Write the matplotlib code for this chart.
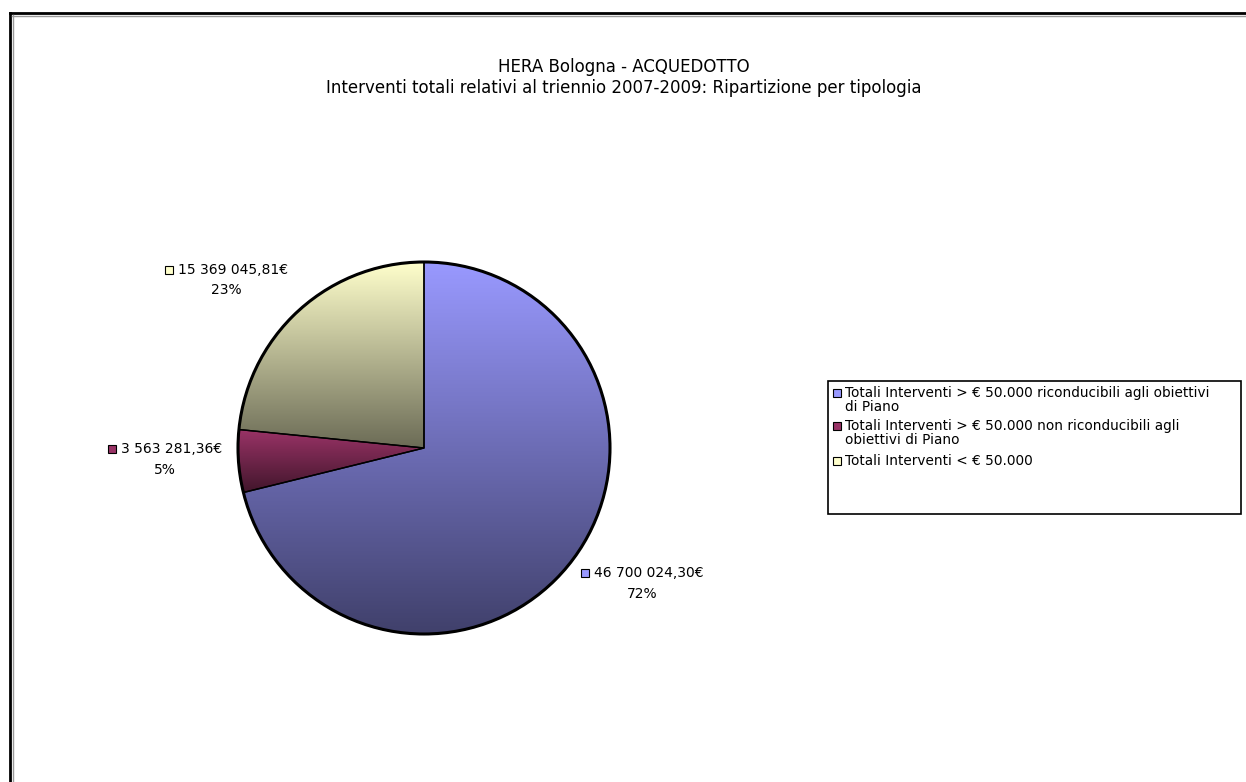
import numpy as np
import matplotlib
matplotlib.use("Agg")
import matplotlib.pyplot as plt
from matplotlib.lines import Line2D
from matplotlib.patches import Rectangle
from matplotlib.colors import to_rgb

# ---------------- data ----------------
title_lines = ["HERA Bologna - ACQUEDOTTO",
               "Interventi totali relativi al triennio 2007-2009: Ripartizione per tipologia"]
categories = ["Totali Interventi > € 50.000 riconducibili agli obiettivi\ndi Piano",
              "Totali Interventi > € 50.000 non riconducibili agli\nobiettivi di Piano",
              "Totali Interventi < € 50.000"]
values = [46700024.30, 3563281.36, 15369045.81]
value_labels = ["46 700 024,30€", "3 563 281,36€", "15 369 045,81€"]
pct_labels = ["72%", "5%", "23%"]
colors = ["#9999FF", "#993366", "#FFFFCC"]

W, H = 1246, 782
fig = plt.figure(figsize=(W / 100, H / 100), dpi=100)
fig.patch.set_facecolor("white")

def fx(x):
    return x / W

def fy(y):
    return 1 - y / H

# frame lines (left and top)
fig.add_artist(Line2D([fx(10), fx(10)], [fy(13), 0], color="black", lw=2))
fig.add_artist(Line2D([fx(10), 1], [fy(13), fy(13)], color="black", lw=2))
fig.add_artist(Line2D([fx(12.5), fx(12.5)], [fy(15), 0], color="#9a9a9a", lw=1))
fig.add_artist(Line2D([fx(12), 1], [fy(15.5), fy(15.5)], color="#9a9a9a", lw=1))

# title
fig.text(fx(624), fy(67), title_lines[0], ha="center", va="center",
         fontsize=12, family="DejaVu Sans")
fig.text(fx(624), fy(88), title_lines[1], ha="center", va="center",
         fontsize=12, family="DejaVu Sans")

# pie axes: center (424, 448), radius 186 px
cx, cy, r = 424, 448, 186
half = 200
ax = fig.add_axes([fx(cx - half), fy(cy + half), 2 * half / W, 2 * half / H])

wedges, _ = ax.pie(values, startangle=90, counterclock=False, radius=1,
                   colors=["none"] * 3,
                   wedgeprops=dict(edgecolor="black", linewidth=1.0))

for w, c in zip(wedges, colors):
    t1, t2 = np.deg2rad(w.theta1), np.deg2rad(w.theta2)
    th = np.linspace(t1, t2, 200)
    xs = np.concatenate([[0], np.cos(th)])
    ys = np.concatenate([[0], np.sin(th)])
    x0, x1, y0, y1 = xs.min(), xs.max(), ys.min(), ys.max()
    base = np.array(to_rgb(c))
    dark = base * 0.42
    n = 256
    tt = np.linspace(0, 1, n)[:, None]
    grad = base[None, :] * (1 - tt) + dark[None, :] * tt
    img = np.repeat(grad[:, None, :], 2, axis=1)
    im = ax.imshow(img, extent=[x0, x1, y0, y1], origin="upper",
                   aspect="auto", zorder=0.5, interpolation="bilinear")
    im.set_clip_path(w)

ax.set_xlim(-half / r, half / r)
ax.set_ylim(-half / r, half / r)
ax.set_aspect("equal")
ax.axis("off")

# outer outline
circ = plt.Circle((0, 0), 1, fill=False, edgecolor="black", lw=2.2, zorder=3)
ax.add_patch(circ)

# data labels
lab_pos = [(642, 573, 594), (165, 449, 470), (226, 270, 290)]
for (lx, ly1, ly2), vl, pl, c in zip(lab_pos, value_labels, pct_labels, colors):
    t = fig.text(fx(lx + 7), fy(ly1), vl, ha="center", va="center",
                 fontsize=10, family="DejaVu Sans")
    fig.text(fx(lx), fy(ly2), pl, ha="center", va="center",
             fontsize=10, family="DejaVu Sans")
    fig.canvas.draw()
    bb = t.get_window_extent()
    sx = bb.x0 - 13
    fig.add_artist(Rectangle((sx / W, (H - ly1 - 4) / H), 8 / W, 8 / H,
                             facecolor=c, edgecolor="black", lw=0.8))

# legend box
fig.add_artist(Rectangle((fx(828), fy(514)), (1241 - 828) / W, (514 - 381) / H,
                         facecolor="white", edgecolor="black", lw=1.2))
leg_rows = [(393, 0), (426, 1), (461, 2)]
for (ly, i) in leg_rows:
    fig.add_artist(Rectangle((fx(833), fy(ly + 4)), 8 / W, 8 / H,
                             facecolor=colors[i], edgecolor="black", lw=0.8))
    fig.text(fx(845), fy(ly - 7), categories[i], ha="left", va="top",
             fontsize=9.8, family="DejaVu Sans", linespacing=1.0)

fig.savefig("out.png", dpi=100)
